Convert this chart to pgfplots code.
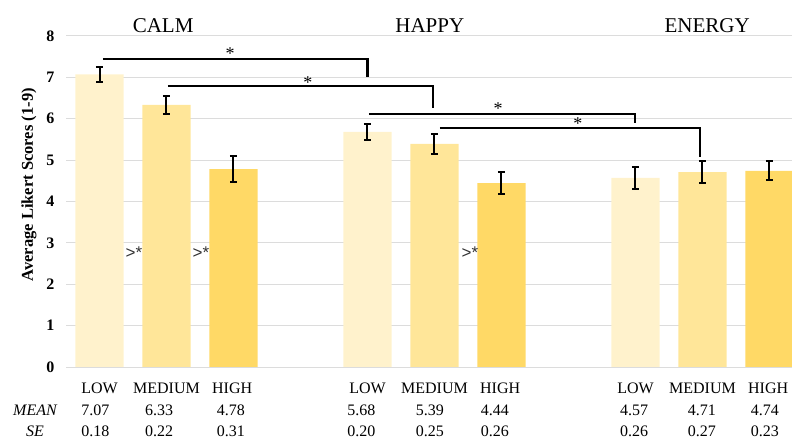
\documentclass[border=0pt]{standalone}
\usepackage{fontspec}
\setmainfont{Liberation Serif}
\newfontfamily\arialfont{Liberation Sans}
\usepackage{pgfplots}
\usepackage{pgfplotstable}
\pgfplotsset{compat=1.18}

\definecolor{lowc}{HTML}{FFF2CC}
\definecolor{medc}{HTML}{FFE699}
\definecolor{highc}{HTML}{FFD966}
\definecolor{gridc}{HTML}{DCDCDC}

% x = bar position, y = mean, e = standard error
\pgfplotstableread{
x  y    e
0  7.07 0.18
4  5.68 0.20
8  4.57 0.26
}\lowdata
\pgfplotstableread{
x  y    e
1  6.33 0.22
5  5.39 0.25
9  4.71 0.27
}\meddata
\pgfplotstableread{
x  y    e
2  4.78 0.31
6  4.44 0.26
10 4.74 0.23
}\highdata

\newcommand{\tabfont}{\fontsize{16}{16}\selectfont}
\newcommand{\starfont}{\fontsize{18}{18}\selectfont}
\newcommand{\gtfont}{\arialfont\fontsize{17}{17}\selectfont}

\begin{document}
\begin{tikzpicture}
\path[use as bounding box] (0,0) rectangle (792pt,443pt);
\begin{axis}[
  at={(66pt,76pt)}, anchor=south west,
  scale only axis, width=727.6pt, height=331.2pt,
  xmin=-0.5, xmax=10.36, ymin=0, ymax=8,
  ytick={0,...,8}, xtick=\empty,
  axis line style={draw=none},
  major tick length=0pt,
  ymajorgrids, grid style={line width=0.8pt, color=gridc},
  /pgf/number format/assume math mode=true,
  yticklabel style={font=\fontsize{16}{16}\selectfont\bfseries, xshift=-8pt},
  ylabel={\textbf{Average Likert Scores (1-9)}},
  every axis y label/.style={at={(axis description cs:-0.051,0.55)}, rotate=90, anchor=center, font=\fontsize{16.5}{16.5}\selectfont},
  clip=false,
  error bars/error bar style={draw=black, line width=2pt},
  error bars/error mark options={draw=black, rotate=90, line width=2pt, mark size=3.5pt},
]
\addplot[ybar, bar width=0.72, bar shift=0pt, fill=lowc, draw=none,
  error bars/.cd, y dir=both, y explicit]
  table[x=x, y=y, y error=e] {\lowdata};
\addplot[ybar, bar width=0.72, bar shift=0pt, fill=medc, draw=none,
  error bars/.cd, y dir=both, y explicit]
  table[x=x, y=y, y error=e] {\meddata};
\addplot[ybar, bar width=0.72, bar shift=0pt, fill=highc, draw=none,
  error bars/.cd, y dir=both, y explicit]
  table[x=x, y=y, y error=e] {\highdata};

% significance brackets
\addplot[black, line width=2.6pt, mark=none] coordinates {(0.05,7.44) (4.0,7.44) (4.0,7.0)};
\addplot[black, line width=2.6pt, mark=none] coordinates {(1.02,6.79) (4.98,6.79) (4.98,6.26)};
\addplot[black, line width=2.6pt, mark=none] coordinates {(4.02,6.11) (7.99,6.11) (7.99,5.89)};
\addplot[black, line width=2.6pt, mark=none] coordinates {(5.08,5.77) (8.96,5.77) (8.96,5.07)};
\node[font=\starfont] at (axis cs:1.95,7.58) {*};
\node[font=\starfont] at (axis cs:3.11,6.87) {*};
\node[font=\starfont] at (axis cs:5.95,6.25) {*};
\node[font=\starfont] at (axis cs:7.14,5.89) {*};

% within-group markers
\node[font=\gtfont, text=black!80] at (axis cs:0.515,2.75) {>*};
\node[font=\gtfont, text=black!80] at (axis cs:1.515,2.75) {>*};
\node[font=\gtfont, text=black!80] at (axis cs:5.53,2.75) {>*};

% group titles
\node[anchor=base, font=\fontsize{21}{21}\selectfont] at (axis cs:0.95,8.09) {CALM};
\node[anchor=base, font=\fontsize{21}{21}\selectfont] at (axis cs:4.93,8.09) {HAPPY};
\node[anchor=base, font=\fontsize{21}{21}\selectfont] at (axis cs:9.07,8.09) {ENERGY};

% table under the bars
\node[anchor=base, font=\tabfont] at (axis cs:0,-0.652) {LOW};
\node[anchor=base, font=\tabfont] at (axis cs:1,-0.652) {MEDIUM};
\node[anchor=base, font=\tabfont] at (axis cs:1.98,-0.652) {HIGH};
\node[anchor=base, font=\tabfont] at (axis cs:4,-0.652) {LOW};
\node[anchor=base, font=\tabfont] at (axis cs:5,-0.652) {MEDIUM};
\node[anchor=base, font=\tabfont] at (axis cs:5.98,-0.652) {HIGH};
\node[anchor=base, font=\tabfont] at (axis cs:8,-0.652) {LOW};
\node[anchor=base, font=\tabfont] at (axis cs:9,-0.652) {MEDIUM};
\node[anchor=base, font=\tabfont] at (axis cs:9.98,-0.652) {HIGH};
\node[anchor=base, font=\tabfont\itshape] at (axis cs:-0.963,-1.16) {MEAN};
\node[anchor=base, font=\tabfont\itshape] at (axis cs:-0.963,-1.667) {SE};
\node[anchor=base, font=\tabfont] at (axis cs:-0.06,-1.16) {7.07};
\node[anchor=base, font=\tabfont] at (axis cs:0.89,-1.16) {6.33};
\node[anchor=base, font=\tabfont] at (axis cs:1.96,-1.16) {4.78};
\node[anchor=base, font=\tabfont] at (axis cs:3.91,-1.16) {5.68};
\node[anchor=base, font=\tabfont] at (axis cs:4.93,-1.16) {5.39};
\node[anchor=base, font=\tabfont] at (axis cs:5.90,-1.16) {4.44};
\node[anchor=base, font=\tabfont] at (axis cs:7.98,-1.16) {4.57};
\node[anchor=base, font=\tabfont] at (axis cs:8.99,-1.16) {4.71};
\node[anchor=base, font=\tabfont] at (axis cs:9.93,-1.16) {4.74};
\node[anchor=base, font=\tabfont] at (axis cs:-0.06,-1.667) {0.18};
\node[anchor=base, font=\tabfont] at (axis cs:0.89,-1.667) {0.22};
\node[anchor=base, font=\tabfont] at (axis cs:1.96,-1.667) {0.31};
\node[anchor=base, font=\tabfont] at (axis cs:3.91,-1.667) {0.20};
\node[anchor=base, font=\tabfont] at (axis cs:4.93,-1.667) {0.25};
\node[anchor=base, font=\tabfont] at (axis cs:5.90,-1.667) {0.26};
\node[anchor=base, font=\tabfont] at (axis cs:7.98,-1.667) {0.26};
\node[anchor=base, font=\tabfont] at (axis cs:8.99,-1.667) {0.27};
\node[anchor=base, font=\tabfont] at (axis cs:9.93,-1.667) {0.23};
\end{axis}
\end{tikzpicture}
\end{document}
